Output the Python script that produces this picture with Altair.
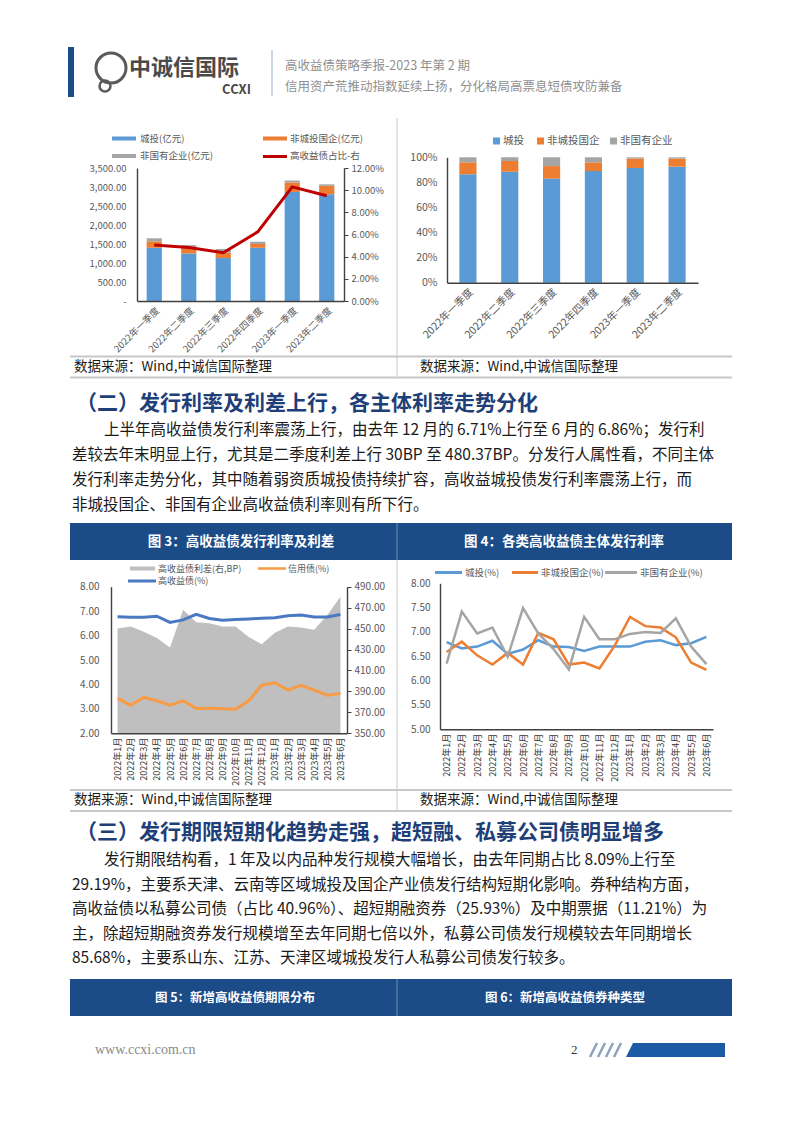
import altair as alt
import pandas as pd

FONT = "Noto Sans CJK SC"
SERIF = "Liberation Serif"
BAND = "#1B4C87"
NAVY = "#1F3F78"
AX = "#404040"
LBL = "#595959"
LINEGRAY = "#C8C8C8"
BODY = "#1a1a1a"

# ---------------- data ----------------
header_lines = ["高收益债策略季报-2023 年第 2 期", "信用资产荒推动指数延续上扬，分化格局高票息短债攻防兼备"]
logo_cn = "中诚信国际"
logo_en = "CCXI"

quarters = ["2022年一季度", "2022年二季度", "2022年三季度", "2022年四季度", "2023年一季度", "2023年二季度"]
series1 = ["城投(亿元)", "非城投国企(亿元)", "非国有企业(亿元)"]
line1_name = "高收益债占比-右"
amt_chengtou = [1400, 1250, 1130, 1400, 2870, 2810]
amt_feichengtou = [170, 170, 140, 100, 250, 220]
amt_feiguoyou = [80, 50, 100, 60, 50, 40]
share_hy = [0.0505, 0.0483, 0.0435, 0.0624, 0.103, 0.095]
ticks1_left = [0, 500, 1000, 1500, 2000, 2500, 3000, 3500]
ticks1_right = [0, 0.02, 0.04, 0.06, 0.08, 0.10, 0.12]

series2 = ["城投", "非城投国企", "非国有企业"]
pct_chengtou = [0.865, 0.885, 0.83, 0.89, 0.915, 0.925]
pct_feichengtou = [0.095, 0.085, 0.10, 0.07, 0.075, 0.065]
pct_feiguoyou = [0.04, 0.03, 0.07, 0.04, 0.01, 0.01]
ticks2 = [0, 0.2, 0.4, 0.6, 0.8, 1.0]

months = ["2022年1月", "2022年2月", "2022年3月", "2022年4月", "2022年5月", "2022年6月",
          "2022年7月", "2022年8月", "2022年9月", "2022年10月", "2022年11月", "2022年12月",
          "2023年1月", "2023年2月", "2023年3月", "2023年4月", "2023年5月", "2023年6月"]
series3 = ["高收益债利差(右,BP)", "信用债(%)", "高收益债(%)"]
spread_bp = [450, 452, 447, 441, 432, 468, 456, 455, 452, 452, 442, 435, 446, 452, 451, 449, 463, 480.37]
credit_rate = [3.43, 3.15, 3.47, 3.33, 3.15, 3.33, 3.02, 3.03, 3.00, 2.98, 3.33, 3.97, 4.07, 3.77, 3.96, 3.77, 3.56, 3.63]
hy_rate = [6.77, 6.75, 6.75, 6.79, 6.54, 6.64, 6.87, 6.70, 6.63, 6.66, 6.68, 6.71, 6.73, 6.81, 6.84, 6.76, 6.76, 6.86]
ticks3_left = [2, 3, 4, 5, 6, 7, 8]
ticks3_right = [350, 370, 390, 410, 430, 450, 470, 490]

series4 = ["城投(%)", "非城投国企(%)", "非国有企业(%)"]
ct_rate = [6.79, 6.66, 6.70, 6.82, 6.55, 6.64, 6.83, 6.70, 6.69, 6.61, 6.70, 6.70, 6.70, 6.80, 6.83, 6.73, 6.77, 6.90]
fct_rate = [6.59, 6.80, 6.52, 6.33, 6.57, 6.33, 6.98, 6.85, 6.33, 6.37, 6.25, 6.72, 7.31, 7.12, 7.09, 6.89, 6.37, 6.22]
fgy_rate = [6.35, 7.42, 6.97, 7.09, 6.49, 7.49, 6.97, 6.65, 6.23, 7.31, 6.85, 6.85, 6.96, 7.00, 6.98, 7.28, 6.70, 6.34]
ticks4 = [5.0, 5.5, 6.0, 6.5, 7.0, 7.5, 8.0]

source_text = "数据来源：Wind,中诚信国际整理"
heading2 = "（二）发行利率及利差上行，各主体利率走势分化"
para2 = [
    "上半年高收益债发行利率震荡上行，由去年 12 月的 6.71%上行至 6 月的 6.86%；发行利",
    "差较去年末明显上行，尤其是二季度利差上行 30BP 至 480.37BP。分发行人属性看，不同主体",
    "发行利率走势分化，其中随着弱资质城投债持续扩容，高收益城投债发行利率震荡上行，而",
    "非城投国企、非国有企业高收益债利率则有所下行。",
]
fig_titles_a = ["图 3：高收益债发行利率及利差", "图 4：各类高收益债主体发行利率"]
heading3 = "（三）发行期限短期化趋势走强，超短融、私募公司债明显增多"
para3 = [
    "发行期限结构看，1 年及以内品种发行规模大幅增长，由去年同期占比 8.09%上行至",
    "29.19%，主要系天津、云南等区域城投及国企产业债发行结构短期化影响。券种结构方面，",
    "高收益债以私募公司债（占比 40.96%）、超短期融资券（25.93%）及中期票据（11.21%）为",
    "主，除超短期融资券发行规模增至去年同期七倍以外，私募公司债发行规模较去年同期增长",
    "85.68%，主要系山东、江苏、天津区域城投发行人私募公司债发行较多。",
]
fig_titles_b = ["图 5：新增高收益债期限分布", "图 6：新增高收益债券种类型"]
footer_url = "www.ccxi.com.cn"
page_no = "2"

COLORS_BAR = ["#5B9BD5", "#ED7D31", "#A5A5A5"]


# ---------------- helpers ----------------
def txt(s, x, y, size, color=BODY, weight="normal", align="left", font=FONT):
    return alt.Chart(pd.DataFrame({"t": [s]})).mark_text(
        align=align, baseline="middle", fontSize=size, font=font, color=color, fontWeight=weight
    ).encode(text="t:N", x=alt.value(x), y=alt.value(y))


def rect(x1, x2, y1, y2, color):
    return alt.Chart(pd.DataFrame({"a": [0]})).mark_rect(color=color).encode(
        x=alt.value(x1), x2=alt.value(x2), y=alt.value(y1), y2=alt.value(y2))


def rule(x1, x2, y1, y2, color, w=1.0):
    return alt.Chart(pd.DataFrame({"a": [0]})).mark_rule(color=color, strokeWidth=w).encode(
        x=alt.value(x1), x2=alt.value(x2), y=alt.value(y1), y2=alt.value(y2))


def ax(orient, offset, **kw):
    base = dict(orient=orient, offset=offset, title=None, grid=False, domainColor=AX, domainWidth=1.4,
                tickColor=AX, labelFont=FONT, labelColor=LBL, labelFontSize=10, labelOverlap=False, zindex=1)
    base.update(kw)
    return alt.Axis(**base)


layers = []

# ---------------- page header ----------------
layers.append(rect(68, 74, 47, 97, BAND))
layers.append(alt.Chart(pd.DataFrame({"a": [0]})).mark_point(
    shape="circle", size=900, filled=False, stroke="#5a5a5a", strokeWidth=3, opacity=1
).encode(x=alt.value(111), y=alt.value(68)))
layers.append(alt.Chart(pd.DataFrame({"a": [0]})).mark_point(
    shape="circle", size=120, filled=False, stroke="#5a5a5a", strokeWidth=2.5, opacity=1
).encode(x=alt.value(105), y=alt.value(86)))
layers.append(txt(logo_cn, 129, 68, 22, color="#4a4a4a", weight="bold"))
layers.append(txt(logo_en, 251, 90, 13, color="#4a4a4a", weight="bold", align="right"))
layers.append(rule(272, 272, 50, 96, "#A9BCD3", 1.2))
layers.append(txt(header_lines[0], 285, 66, 12.5, color="#8f8f8f"))
layers.append(txt(header_lines[1], 285, 87, 12.5, color="#8f8f8f"))

# ---------------- chart 1 ----------------
df1 = pd.DataFrame({
    "q": quarters * 3,
    "s": [series1[0]] * 6 + [series1[1]] * 6 + [series1[2]] * 6,
    "o": [0] * 6 + [1] * 6 + [2] * 6,
    "v": amt_chengtou + amt_feichengtou + amt_feiguoyou,
})
sc1x = alt.Scale(type="band", range=[137, 344], paddingInner=0.56, paddingOuter=0.28)
ax1x = ax("bottom", 301 - 1133, labelAngle=-45, ticks=False, tickSize=0, labelPadding=4, labelFontSize=9.5)
bars1 = alt.Chart(df1).mark_bar().encode(
    x=alt.X("q:N", sort=quarters, scale=sc1x, axis=ax1x),
    y=alt.Y("v:Q", stack="zero", scale=alt.Scale(domain=[0, 3500], range=[301, 168], nice=False, zero=False),
            axis=ax("left", -137, values=ticks1_left, ticks=False, tickSize=0, labelPadding=11,
                    labelFontSize=9.5,
                    labelExpr="datum.value == 0 ? '-' : format(datum.value, ',.2f')")),
    color=alt.Color("s:N", scale=alt.Scale(domain=series1, range=COLORS_BAR), legend=None),
    order=alt.Order("o:Q", sort="ascending"),
)
line1 = alt.Chart(pd.DataFrame({"q": quarters, "v": share_hy})).mark_line(color="#C00000", strokeWidth=3).encode(
    x=alt.X("q:N", sort=quarters, scale=sc1x, axis=ax1x),
    y=alt.Y("v:Q", scale=alt.Scale(domain=[0, 0.12], range=[301, 168], nice=False, zero=False),
            axis=ax("right", 344 - 802, values=ticks1_right, format=".2%", tickSize=4, labelPadding=3,
                    labelFontSize=9.5)),
)
layers.append(alt.layer(bars1, line1).resolve_scale(y="independent"))
# legend 1
layers.append(rect(112, 136, 136.5, 140.5, COLORS_BAR[0]))
layers.append(txt(series1[0], 140, 138.5, 9.5, color=LBL))
layers.append(rect(263, 287, 136.5, 140.5, COLORS_BAR[1]))
layers.append(txt(series1[1], 290, 138.5, 9.5, color=LBL))
layers.append(rect(112, 136, 154, 158, COLORS_BAR[2]))
layers.append(txt(series1[2], 140, 156, 9.5, color=LBL))
layers.append(rule(263, 287, 156.5, 156.5, "#C00000", 3))
layers.append(txt(line1_name, 290, 156, 9.5, color=LBL))

# ---------------- chart 2 ----------------
df2 = pd.DataFrame({
    "q": quarters * 3,
    "s": [series2[0]] * 6 + [series2[1]] * 6 + [series2[2]] * 6,
    "o": [0] * 6 + [1] * 6 + [2] * 6,
    "v": pct_chengtou + pct_feichengtou + pct_feiguoyou,
})
bars2 = alt.Chart(df2).mark_bar().encode(
    x=alt.X("q:N", sort=quarters,
            scale=alt.Scale(type="band", range=[447, 698], paddingInner=0.59, paddingOuter=0.295),
            axis=ax("bottom", 282.7 - 1133, labelAngle=-45, ticks=False, tickSize=0, labelPadding=4,
                    labelFontSize=10.5)),
    y=alt.Y("v:Q", stack="zero", scale=alt.Scale(domain=[0, 1], range=[282.7, 157.3], nice=False, zero=False),
            axis=ax("left", -447, values=ticks2, format=".0%", ticks=False, tickSize=0, labelPadding=10,
                    labelFontSize=10.5)),
    color=alt.Color("s:N", scale=alt.Scale(domain=series2, range=COLORS_BAR), legend=None),
    order=alt.Order("o:Q", sort="ascending"),
)
layers.append(bars2)
for i, (sx, tx) in enumerate([(493, 503), (537, 547), (610, 620)]):
    layers.append(rect(sx, sx + 7, 137.5, 144.5, COLORS_BAR[i]))
    layers.append(txt(series2[i], tx, 141, 10.5, color=LBL))

# ---------------- source row (top) ----------------
layers.append(rule(397, 397, 118, 377, LINEGRAY, 1))
layers.append(rule(70, 732, 356.5, 356.5, LINEGRAY, 2))
layers.append(rule(70, 732, 377.5, 377.5, LINEGRAY, 2))
layers.append(txt(source_text, 74, 367, 13.5, color=BODY))
layers.append(txt(source_text, 420, 367, 13.5, color=BODY))

# ---------------- section 2 text ----------------
layers.append(txt(heading2, 76, 404, 21, color=NAVY, weight="bold"))
for i, s in enumerate(para2):
    layers.append(txt(s, 104 if i == 0 else 72, 430 + 25 * i, 15.5, color=BODY))

# ---------------- figure band 3/4 ----------------
layers.append(rect(70, 732, 523, 560, BAND))
layers.append(rule(397, 397, 523, 560, "#6F8DB5", 1))
layers.append(txt(fig_titles_a[0], 241, 542, 13.5, color="white", weight="bold", align="center"))
layers.append(txt(fig_titles_a[1], 564, 542, 13.5, color="white", weight="bold", align="center"))

# ---------------- chart 3 ----------------
sc3x = alt.Scale(type="point", range=[111, 347], padding=0.5)
ax3x = ax("bottom", 733.3 - 1133, labelAngle=-90, ticks=False, tickSize=0, labelPadding=4,
          labelFontSize=9, labelColor="#333333")
sc3l = alt.Scale(domain=[2, 8], range=[733.3, 586.7], nice=False, zero=False)
ax3l = ax("left", -111, values=ticks3_left, format=".2f", ticks=False, tickSize=0, labelPadding=12)
df3 = pd.DataFrame({"m": months, "sp": spread_bp, "cr": credit_rate, "hy": hy_rate})
area3 = alt.Chart(df3).mark_area(color="#BFBFBF", opacity=1).encode(
    x=alt.X("m:N", sort=months, scale=sc3x, axis=ax3x),
    y=alt.Y("sp:Q", stack=None, scale=alt.Scale(domain=[350, 490], range=[733.3, 586.7], nice=False, zero=False),
            axis=ax("right", 347 - 802, values=ticks3_right, format=".2f", tickSize=4, labelPadding=3)),
    y2=alt.datum(350),
)
orange3 = alt.Chart(df3).mark_line(color="#F79B45", strokeWidth=3).encode(
    x=alt.X("m:N", sort=months, scale=sc3x, axis=ax3x),
    y=alt.Y("cr:Q", scale=sc3l, axis=ax3l))
blue3 = alt.Chart(df3).mark_line(color="#4A78C2", strokeWidth=3).encode(
    x=alt.X("m:N", sort=months, scale=sc3x, axis=ax3x),
    y=alt.Y("hy:Q", scale=sc3l, axis=ax3l))
layers.append(alt.layer(area3, alt.layer(orange3, blue3)).resolve_scale(y="independent"))
layers.append(rect(130, 155, 566.5, 570.5, "#BFBFBF"))
layers.append(txt(series3[0], 158, 568.5, 9, color=LBL))
layers.append(rule(258, 286, 568.5, 568.5, "#F79B45", 2.5))
layers.append(txt(series3[1], 288, 568.5, 9, color=LBL))
layers.append(rule(128, 156, 581, 581, "#4A78C2", 3))
layers.append(txt(series3[2], 158, 581, 9, color=LBL))

# ---------------- chart 4 ----------------
sc4x = alt.Scale(type="point", range=[440, 713], padding=0.43)
sc4y = alt.Scale(domain=[5, 8], range=[729.3, 583.3], nice=False, zero=False)
ax4x = ax("bottom", 729.3 - 1133, labelAngle=-90, ticks=False, tickSize=0, labelPadding=4,
          labelFontSize=9, labelColor="#333333")
ax4y = ax("left", -440, values=ticks4, format=".2f", ticks=False, tickSize=0, labelPadding=10)
df4 = pd.DataFrame({"m": months, "a": ct_rate, "b": fct_rate, "c": fgy_rate})
l4 = []
for col, c in zip(["a", "b", "c"], COLORS_BAR):
    l4.append(alt.Chart(df4).mark_line(color=c, strokeWidth=2.5).encode(
        x=alt.X("m:N", sort=months, scale=sc4x, axis=ax4x),
        y=alt.Y(f"{col}:Q", scale=sc4y, axis=ax4y)))
layers.append(alt.layer(*l4))
for i, (x1, x2) in enumerate([(435, 462), (512, 538), (605, 637)]):
    layers.append(rule(x1, x2, 572.5, 572.5, COLORS_BAR[i], 3))
    layers.append(txt(series4[i], x2 + 3, 572.5, 9.5, color=LBL))

# ---------------- source row (middle) ----------------
layers.append(rule(397, 397, 560, 811, LINEGRAY, 1))
layers.append(rule(70, 732, 790, 790, LINEGRAY, 2))
layers.append(rule(70, 732, 811, 811, LINEGRAY, 2))
layers.append(txt(source_text, 74, 800, 13.5, color=BODY))
layers.append(txt(source_text, 420, 800, 13.5, color=BODY))

# ---------------- section 3 text ----------------
layers.append(txt(heading3, 76, 833, 21, color=NAVY, weight="bold"))
for i, s in enumerate(para3):
    layers.append(txt(s, 104 if i == 0 else 72, 860 + 24.6 * i, 15.5, color=BODY))

# ---------------- figure band 5/6 ----------------
layers.append(rect(70, 732, 979, 1016, BAND))
layers.append(rule(397, 397, 979, 1016, "#6F8DB5", 1))
layers.append(txt(fig_titles_b[0], 235, 997.5, 12.5, color="white", weight="bold", align="center"))
layers.append(txt(fig_titles_b[1], 565, 997.5, 12.5, color="white", weight="bold", align="center"))

# ---------------- footer ----------------
layers.append(txt(footer_url, 95, 1050, 14, color="#8a8a8a", font=SERIF))
layers.append(txt(page_no, 571, 1050, 13, color="#333333", font=SERIF))
for sx in [590, 598, 606, 614]:
    layers.append(rule(sx, sx + 7, 1057, 1043, "#8FA3BF", 2.5))
layers.append(alt.Chart(pd.DataFrame({"a": [0]})).mark_point(
    shape="M -1 0.1414 L -0.859 -0.1414 L 1 -0.1414 L 1 0.1414 Z",
    size=9801, filled=True, color="#1C5AA6", opacity=1, strokeWidth=0,
).encode(x=alt.value(675.5), y=alt.value(1050)))

chart = alt.layer(*layers).resolve_scale(
    x="independent", y="independent", color="independent"
).properties(
    width=802, height=1133, autosize=alt.AutoSizeParams(type="none"), padding=0, background="white"
).configure_view(stroke=None).configure_axis(grid=False)

chart.save("out.html", embed_options={"renderer": "svg", "actions": False})
